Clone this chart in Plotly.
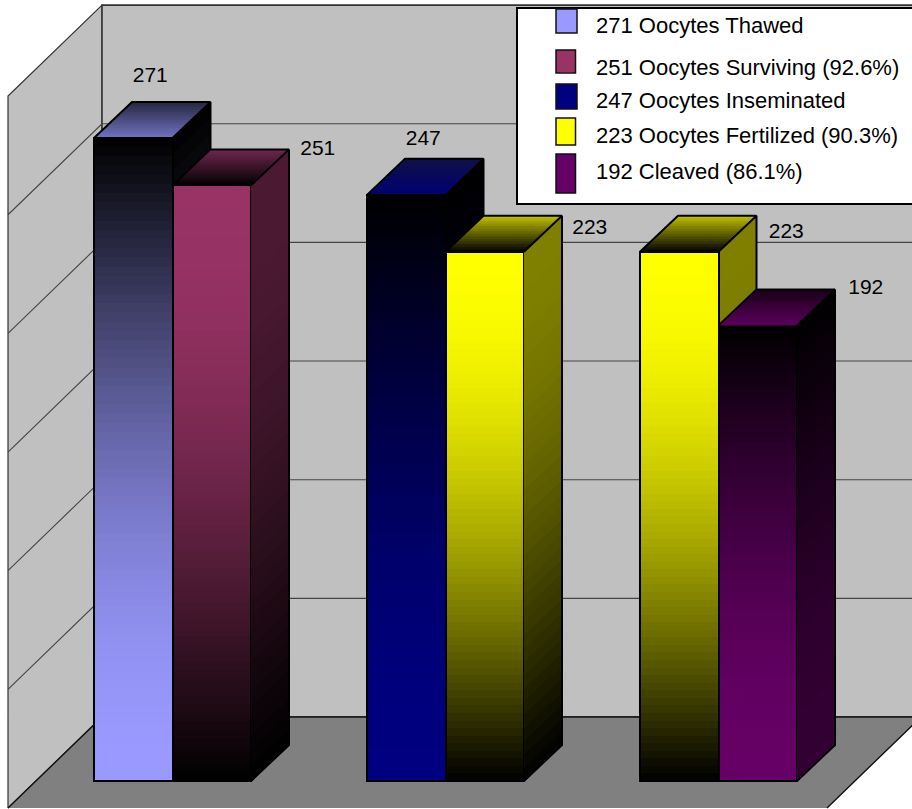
import math
import plotly.graph_objects as go

# ---------- data ----------
series_names = ["271 Oocytes Thawed", "251 Oocytes Surviving (92.6%)", "247 Oocytes Inseminated",
                "223 Oocytes Fertilized (90.3%)", "192 Cleaved (86.1%)"]
legend_colors = ["#9999FF", "#993366", "#000080", "#FFFF00", "#660066"]
group_a_values = [271, 247, 223]
group_b_values = [251, 223, 192]
value_ticks = [0, 50, 100, 150, 200, 250, 300]

# ---------- styling ----------
W, H = 912, 809
K = 2.373            # pixels per unit on the value axis
BASE_PX = 781        # pixel row of value 0 on the bars' front plane
GROUP_STEP, BAR_W, FIRST_X = 273, 78.5, 94
DEPTH_X, DEPTH_Y = 38, 36 / K
BACK_X, BACK_OFF = 102, (BASE_PX - 717) / K
LEFT_X, LEFT_OFF = 8, (BASE_PX - 808) / K
RIGHT_X = 921
FONT = "Liberation Sans"
FS = 21
LEGEND_FS = 22

# per-bar gradients: front top, front bottom, top face front edge, top face back edge
BAR_STYLES = [
    ("#000000", "#9999FF", "#7272C2", "#262640"),
    ("#993366", "#000000", "#000000", "#702850"),
    ("#000000", "#000080", "#000072", "#101048"),
    ("#FFFF00", "#000000", "#000000", "#C0C000"),
    ("#FFFF00", "#000000", "#000000", "#C0C000"),
    ("#000000", "#660066", "#5C005C", "#180018"),
]
LABEL_DX = [17, 106, 17, 105, 107, 108]
LABEL_DY = [61, 36, 55, 23, 19, 37]


def v_of_px(py):
    return (BASE_PX - py) / K


def rgb(h):
    return tuple(int(h[i:i + 2], 16) for i in (1, 3, 5))


def mix(a, b, t, scale=1.0):
    ca, cb = rgb(a), rgb(b)
    return "rgb(%d,%d,%d)" % tuple(round((x + (y - x) * t) * scale) for x, y in zip(ca, cb))


def ease(a, t):
    """Shaded fills fall off slowly near the bright end and quickly near the dark end."""
    return math.sin(math.pi * t / 2) if a == "#000000" else 1 - math.cos(math.pi * t / 2)


fig = go.Figure()
A = dict(xaxis="x", yaxis="y", hoverinfo="skip", showlegend=False)
B = dict(xaxis="x2", yaxis="y2", hoverinfo="skip", showlegend=False)


def poly(xs, ys, fill, line=None, lw=0, ax=A):
    fig.add_trace(go.Scatter(x=xs + xs[:1], y=ys + ys[:1], mode="lines", fill="toself", fillcolor=fill,
                             line=dict(color=line or fill, width=lw), **ax))


# ---------- walls and floor ----------
top = value_ticks[-1]
poly([LEFT_X, BACK_X, BACK_X, LEFT_X], [LEFT_OFF, BACK_OFF, top + BACK_OFF, top + LEFT_OFF], "#C0C0C0", "#333333", 1.2)
poly([BACK_X, RIGHT_X, RIGHT_X, BACK_X], [BACK_OFF, BACK_OFF, top + BACK_OFF, top + BACK_OFF], "#C0C0C0", "#333333", 1.6)
floor_x = [LEFT_X, BACK_X, RIGHT_X, RIGHT_X - (BACK_X - LEFT_X)]
floor_y = [LEFT_OFF, BACK_OFF, BACK_OFF, LEFT_OFF]
poly(floor_x, floor_y, "#808080")
fig.add_trace(go.Scatter(x=floor_x, y=floor_y, mode="lines", line=dict(color="#111111", width=1.4), **A))
for t in value_ticks[1:-1]:
    fig.add_trace(go.Scatter(x=[LEFT_X, BACK_X, RIGHT_X], y=[t + LEFT_OFF, t + BACK_OFF, t + BACK_OFF], mode="lines",
                             line=dict(color="#444444", width=1.1), **A))

# ---------- bars ----------
values, lefts = [], []
for g, (a, b) in enumerate(zip(group_a_values, group_b_values)):
    for s, v in enumerate((a, b)):
        values.append(v)
        lefts.append(FIRST_X + g * GROUP_STEP + s * BAR_W)


def side_and_top(i, ax):
    v, x0 = values[i], lefts[i]
    x1 = x0 + BAR_W
    ft, fb, tf, tb = BAR_STYLES[i]
    n = 40
    for k in range(n):            # painted top-down, each slice reaching the base
        y1 = v * (1 - k / n)
        poly([x1, x1 + DEPTH_X, x1 + DEPTH_X, x1], [0, DEPTH_Y, y1 + DEPTH_Y, y1],
             mix(ft, fb, ease(ft, (k + .5) / n), .5), ax=ax)
    m = 14
    for k in range(m):            # painted front-to-back, each slice reaching the back edge
        f0 = k / m
        poly([x0 + DEPTH_X * f0, x1 + DEPTH_X * f0, x1 + DEPTH_X, x0 + DEPTH_X],
             [v + DEPTH_Y * f0, v + DEPTH_Y * f0, v + DEPTH_Y, v + DEPTH_Y],
             mix(tf, tb, (k + .5) / m), ax=ax)
    oc = dict(mode="lines", line=dict(color="#000000", width=2), **ax)
    fig.add_trace(go.Scatter(x=[x1, x1 + DEPTH_X, x1 + DEPTH_X, x1], y=[0, DEPTH_Y, v + DEPTH_Y, v], **oc))
    fig.add_trace(go.Scatter(x=[x0, x0 + DEPTH_X, x1 + DEPTH_X], y=[v, v + DEPTH_Y, v + DEPTH_Y], **oc))


# left bar of each pair sits behind the right bar of the pair
for i in (0, 2, 4):
    side_and_top(i, A)

for i in range(6):
    v, x0 = values[i], lefts[i]
    ft, fb, _, _ = BAR_STYLES[i]
    n = 70
    step = v / n
    fig.add_trace(go.Bar(x=[x0 + BAR_W / 2] * n, y=[step] * n, base=[v - (k + 1) * step for k in range(n)],
                         width=BAR_W,
                         marker=dict(color=[mix(ft, fb, ease(ft, (k + .5) / n)) for k in range(n)], line=dict(width=0)), **B))
for i in range(6):
    fig.add_trace(go.Bar(x=[lefts[i] + BAR_W / 2], y=[values[i]], width=BAR_W,
                         marker=dict(color="rgba(0,0,0,0)", line=dict(color="#000000", width=2)), **B))

for i in (1, 3, 5):
    side_and_top(i, B)

# ---------- value labels ----------
fig.add_trace(go.Scatter(
    x=[lefts[i] + BAR_W / 2 + LABEL_DX[i] for i in range(6)],
    y=[values[i] + LABEL_DY[i] / K for i in range(6)],
    text=[str(v) for v in values], mode="text", textposition="middle center",
    textfont=dict(family=FONT, size=FS, color="#000000"), **B))

# ---------- legend: one white box, one positioned entry per series ----------
LEGEND_BOX = (517, 8, 925, 204)
SWATCHES = [(556, 9, 577, 33), (556, 50, 575.5, 73), (556, 84, 577, 109), (556, 118, 575.5, 145), (556, 154, 575.5, 193)]
TEXT_Y = [24.5, 66.5, 100, 135, 170.5]
LEGEND_X = 536

shapes = [dict(type="rect", xref="paper", yref="paper", layer="above",
               x0=LEGEND_BOX[0] / W, x1=LEGEND_BOX[2] / W, y0=1 - LEGEND_BOX[3] / H, y1=1 - LEGEND_BOX[1] / H,
               fillcolor="#FFFFFF", line=dict(color="#000000", width=2))]
legends = {}
for i, (name, col) in enumerate(zip(series_names, legend_colors)):
    sx0, sy0, sx1, sy1 = SWATCHES[i]
    shapes.append(dict(type="rect", xref="paper", yref="paper", layer="above",
                       x0=sx0 / W, x1=sx1 / W, y0=1 - sy1 / H, y1=1 - sy0 / H,
                       fillcolor=col, line=dict(color="#111111", width=1.5)))
    key = "legend" if i == 0 else f"legend{i + 1}"
    fig.add_trace(go.Scatter(x=[None], y=[None], mode="markers", name=name, legend=key, showlegend=True,
                             hoverinfo="skip", xaxis="x2", yaxis="y2",
                             marker=dict(symbol="square", size=12, color=col)))
    legends[key] = dict(x=LEGEND_X / W, xanchor="left", y=1 - TEXT_Y[i] / H, yanchor="middle",
                        bgcolor="rgba(0,0,0,0)", borderwidth=0, itemwidth=50,
                        font=dict(family=FONT, size=LEGEND_FS, color="#000000"))

ymin, ymax = v_of_px(H), v_of_px(0)
hidden = dict(visible=False, showgrid=False, zeroline=False, fixedrange=True)
fig.update_layout(
    width=W, height=H, margin=dict(l=0, r=0, t=0, b=0), autosize=False,
    paper_bgcolor="#FFFFFF", plot_bgcolor="#FFFFFF", barmode="overlay", bargap=0,
    xaxis=dict(range=[0, W], **hidden), yaxis=dict(range=[ymin, ymax], **hidden),
    xaxis2=dict(range=[0, W], overlaying="x", **hidden), yaxis2=dict(range=[ymin, ymax], overlaying="y", **hidden),
    shapes=shapes, font=dict(family=FONT, size=FS), **legends,
)
fig.write_html("out.html", config=dict(displayModeBar=False),
               post_script="document.body.style.margin='0';document.body.style.overflow='hidden';")
